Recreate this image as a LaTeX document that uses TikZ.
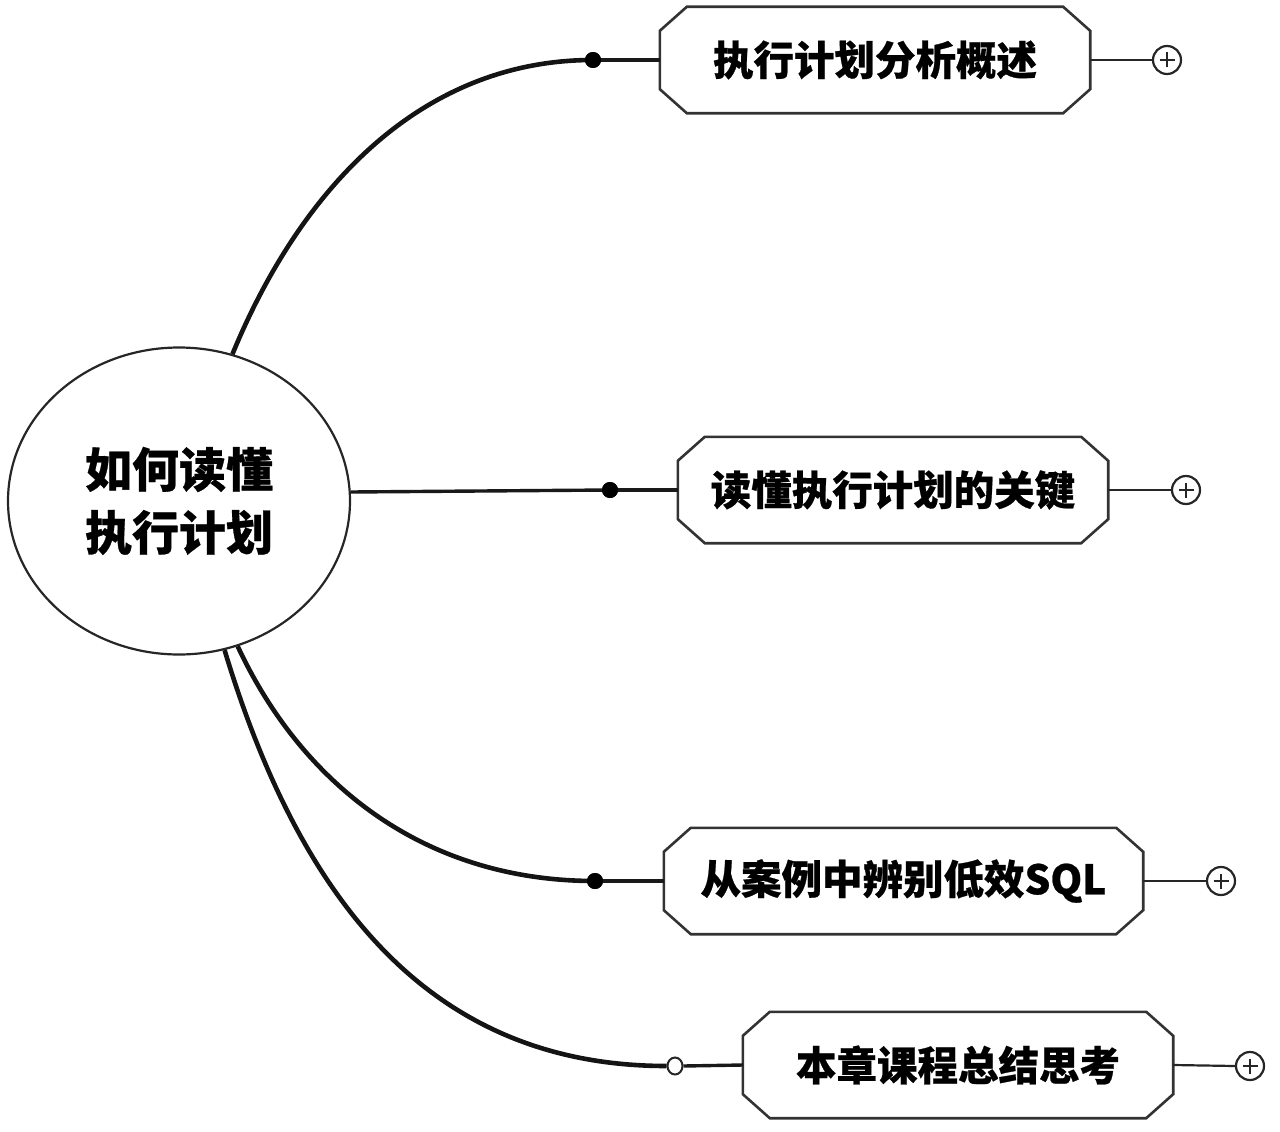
\documentclass[tikz,border=0pt]{standalone}
\usepackage{fontspec}
\newfontfamily\cjk{Noto Sans CJK SC}[BoldFeatures={FakeBold=0.6}]
\usetikzlibrary{shapes.geometric}
\begin{document}
\begin{tikzpicture}[x=1pt,y=-1pt,
  rootnode/.style={ellipse,draw=black!85,line width=2.2pt,minimum width=342pt,minimum height=307pt,
     align=center,font=\cjk\bfseries\fontsize{47}{63}\selectfont,inner sep=0pt},
  topic/.style={rectangle,minimum width=430pt,minimum height=106pt,inner sep=0pt,
     font=\cjk\bfseries\fontsize{40.5}{45}\selectfont},
  octo/.style={draw=black!80,line width=2.6pt,fill=white,line join=miter},
  branch/.style={draw=black!92,line width=4.6pt},
  stem/.style={draw=black!90,line width=3.4pt},
  tail/.style={draw=black!85,line width=2.2pt},
  dotnode/.style={circle,fill=black,inner sep=0pt,minimum size=16pt},
  hollow/.style={ellipse,draw=black!85,line width=2pt,fill=white,inner sep=0pt,minimum width=15pt,minimum height=17pt},
  plusnode/.style={circle,draw=black!85,line width=2.2pt,fill=white,inner sep=0pt,minimum size=28pt,
     path picture={\draw[line width=2.2pt,black!85] (path picture bounding box.center) +(-7.5pt,0) -- +(7.5pt,0)
        (path picture bounding box.center) +(0,-7.5pt) -- +(0,7.5pt);}}
]
\useasboundingbox (0,0) rectangle (1280,1132);

% root
\node[rootnode] (root) at (179,501) {如何读懂\\执行计划};

% topic positions (rectangle placeholders, octagon drawn over them)
\node[topic,minimum width=430pt] (b1) at (875,60) {};
\node[topic,minimum width=430pt] (b2) at (893,490) {};
\node[topic,minimum width=479pt] (b3) at (903.5,881) {};
\node[topic,minimum width=430pt] (b4) at (958,1065) {};

% octagon outlines
\foreach \b in {b1,b2,b3,b4}{
  \path[octo] ([xshift=27pt]\b.north west) -- ([xshift=-27pt]\b.north east)
     -- ([yshift=-24pt]\b.north east) -- ([yshift=24pt]\b.south east)
     -- ([xshift=-27pt]\b.south east) -- ([xshift=27pt]\b.south west)
     -- ([yshift=24pt]\b.south west) -- ([yshift=-24pt]\b.north west) -- cycle;
}

% topic labels
\node[topic,minimum width=0pt,minimum height=0pt] (t1) at (b1.center) {执行计划分析概述};
\node[topic,minimum width=0pt,minimum height=0pt] (t2) at (b2.center) {读懂执行计划的关键};
\node[topic,minimum width=0pt,minimum height=0pt] (t3) at (b3.center) {从案例中辨别低效SQL};
\node[topic,minimum width=0pt,minimum height=0pt] (t4) at (b4.center) {本章课程总结思考};

% junction dots
\node[dotnode] (d1) at (593,60) {};
\node[dotnode] (d2) at (610,490) {};
\node[dotnode] (d3) at (595,881) {};
\node[hollow] (d4) at (675,1066) {};

% expand buttons
\node[plusnode] (p1) at (1167,60) {};
\node[plusnode] (p2) at (1186,490) {};
\node[plusnode] (p3) at (1221,881) {};
\node[plusnode] (p4) at (1250,1066) {};

% branches
\draw[branch] (root.70) .. controls (300,190) and (420,60) .. (d1.center);
\draw[stem] (root.3) -- (d2.center);
\draw[branch] (root.-68) .. controls (300,780) and (420,881) .. (d3.center);
\draw[branch] (root.-73) .. controls (300,900) and (430,1066) .. (d4.west);

% stems to boxes
\draw[stem] (d1.center) -- (b1.west);
\draw[stem] (d2.center) -- (b2.west);
\draw[stem] (d3.center) -- (b3.west);
\draw[stem] (d4.east) -- (b4.west);
\node[dotnode] at (d1) {};
\node[dotnode] at (d2) {};
\node[dotnode] at (d3) {};

% tails to buttons
\draw[tail] (b1.east) -- (p1.west);
\draw[tail] (b2.east) -- (p2.west);
\draw[tail] (b3.east) -- (p3.west);
\draw[tail] (b4.east) -- (p4.west);
\end{tikzpicture}
\end{document}
